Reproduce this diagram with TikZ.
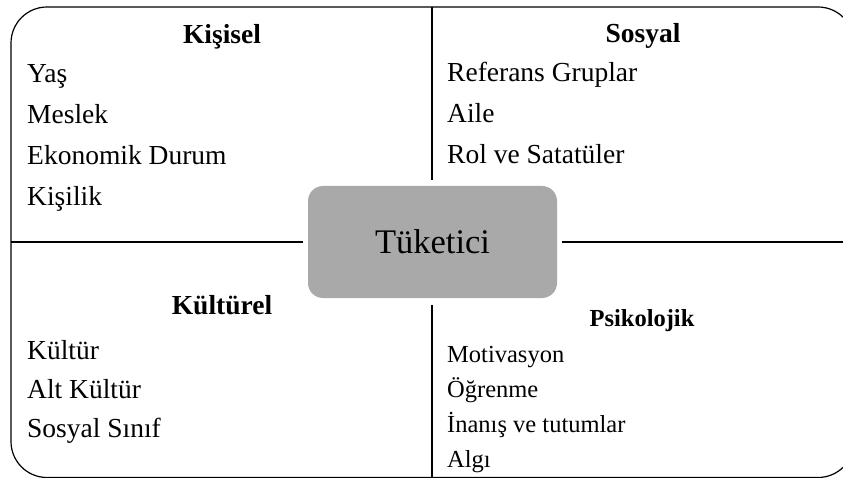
\documentclass[tikz,border=0pt]{standalone}
\usepackage{fontspec}
\setmainfont{Liberation Serif}
\definecolor{hubgray}{RGB}{169,169,169}
\begin{document}
\begin{tikzpicture}[x=1pt,y=-1pt,
  frame/.style={line width=1.2pt, rounded corners=36pt},
  divider/.style={line width=1.3pt},
  hub/.style={fill=hubgray, rounded corners=15pt, minimum width=249pt,
    minimum height=112pt, inner sep=0pt, font=\fontsize{34.5}{40}\selectfont},
  head/.style={anchor=base, inner sep=0pt, font=\fontsize{27.5}{33}\selectfont\bfseries},
  item/.style={anchor=base west, inner sep=0pt, font=\fontsize{27.5}{33}\selectfont},
  headsm/.style={anchor=base, inner sep=0pt, font=\fontsize{24.5}{29}\selectfont\bfseries},
  itemsm/.style={anchor=base west, inner sep=0pt, font=\fontsize{24.5}{29}\selectfont}]
\useasboundingbox (0,0) rectangle (843,478);
\begin{scope}
  \clip (0,0) rectangle (843,478);
  \draw[frame] (11,7) rectangle (854,477.5);
\end{scope}

% centre box
\node[hub] (hub) at (432.5,242) {Tüketici};

% dividers from the frame to the centre box
\coordinate (topend) at (432,7);
\coordinate (botend) at (432,478);
\coordinate (leftend) at (11,242);
\coordinate (rightend) at (843,242);
\draw[divider] (topend) -- ([yshift=6pt]hub.north -| topend);
\draw[divider] ([yshift=-7pt]hub.south -| botend) -- (botend);
\draw[divider] (leftend) -- ([xshift=-5pt]hub.west);
\draw[divider] ([xshift=5pt]hub.east) -- (rightend);

% Kişisel
\node[head] (kisisel) at (222,44) {Kişisel};
\node[item] (yas) at (27,83) {Yaş};
\node[item] (meslek) at (27,124) {Meslek};
\node[item] (ekonomik) at (27,165) {Ekonomik Durum};
\node[item] (kisilik) at (27,206) {Kişilik};

% Sosyal
\node[head] (sosyal) at (643,43) {Sosyal};
\node[item] (referans) at (447,82) {Referans Gruplar};
\node[item] (aile) at (447,123) {Aile};
\node[item] (rol) at (447,164) {Rol ve Satatüler};

% Kültürel
\node[head] (kulturel) at (222,314) {Kültürel};
\node[item] (kultur) at (27,359) {Kültür};
\node[item] (altkultur) at (27,398) {Alt Kültür};
\node[item] (sinif) at (27,437) {Sosyal Sınıf};

% Psikolojik
\node[headsm] (psikolojik) at (642,326) {Psikolojik};
\node[itemsm] (motivasyon) at (447,362) {Motivasyon};
\node[itemsm] (ogrenme) at (447,397) {Öğrenme};
\node[itemsm] (inanis) at (447,432) {İnanış ve tutumlar};
\node[itemsm] (algi) at (447,467) {Algı};
\end{tikzpicture}
\end{document}
